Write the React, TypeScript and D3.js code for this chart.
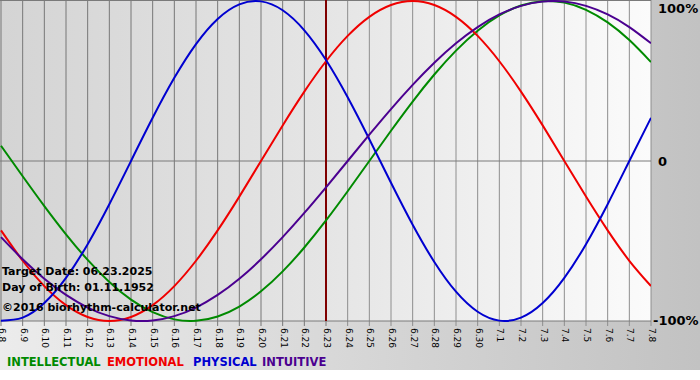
import React from "react";
import * as d3 from "d3";

const days = ["6.8","6.9","6.10","6.11","6.12","6.13","6.14","6.15","6.16","6.17","6.18","6.19","6.20","6.21","6.22","6.23","6.24","6.25","6.26","6.27","6.28","6.29","6.30","7.1","7.2","7.3","7.4","7.5","7.6","7.7","7.8"];
const targetDay = "6.23";

const physical = [-0.9977,-0.9791,-0.8879,-0.7308,-0.5196,-0.2698,0,0.2698,0.5196,0.7308,0.8879,0.9791,0.9977,0.9423,0.8170,0.6311,0.3984,0.1362,-0.1362,-0.3984,-0.6311,-0.8170,-0.9423,-0.9977,-0.9791,-0.8879,-0.7308,-0.5196,-0.2698,0,0.2698];
const emotional = [-0.4339,-0.6235,-0.7818,-0.9010,-0.9749,-1,-0.9749,-0.9010,-0.7818,-0.6235,-0.4339,-0.2225,0,0.2225,0.4339,0.6235,0.7818,0.9010,0.9749,1,0.9749,0.9010,0.7818,0.6235,0.4339,0.2225,0,-0.2225,-0.4339,-0.6235,-0.7818];
const intellectual = [0.0951,-0.0951,-0.2817,-0.4582,-0.6182,-0.7557,-0.8660,-0.9450,-0.9898,-0.9989,-0.9718,-0.9096,-0.8146,-0.6901,-0.5406,-0.3717,-0.1893,0,0.1893,0.3717,0.5406,0.6901,0.8146,0.9096,0.9718,0.9989,0.9898,0.9450,0.8660,0.7557,0.6182];
const intuitive = [-0.4759,-0.6142,-0.7357,-0.8372,-0.9158,-0.9694,-0.9966,-0.9966,-0.9694,-0.9158,-0.8372,-0.7357,-0.6142,-0.4759,-0.3247,-0.1646,0,0.1646,0.3247,0.4759,0.6142,0.7357,0.8372,0.9158,0.9694,0.9966,0.9966,0.9694,0.9158,0.8372,0.7357];

const seriesNames = ["INTELLECTUAL", "EMOTIONAL", "PHYSICAL", "INTUITIVE"];
const seriesValues = [intellectual, emotional, physical, intuitive];
const seriesColors = ["#008a00", "#f00000", "#0000d0", "#4b0090"];
const yTickValues = [1, 0, -1];
const yTickLabels = ["100%", "0", "-100%"];
const infoLines = ["Target Date: 06.23.2025", "Day of Birth: 01.11.1952", "©2016 biorhythm-calculator.net"];

export default function App() {
  const W = 700, H = 380;
  const left = 1, right = 651, top = 1, bottom = 321;
  const x = d3.scalePoint<string>().domain(days).range([left, right]);
  const y = d3.scaleLinear().domain([-1, 1]).range([bottom, top]);
  const line = d3.line<number>()
    .x((_, i) => x(days[i]) as number)
    .y((v) => y(v))
    .curve(d3.curveNatural);
  const font = "Verdana, 'DejaVu Sans', sans-serif";
  const tx = x(targetDay) as number;
  const legendX = [7, 107, 193, 262];
  return (
    <div>
      <style>{`body{margin:0}`}</style>
      <svg width={W} height={H} style={{ display: "block" }}>
        <defs>
          <linearGradient id="plotBg" x1="0" x2="1" y1="0" y2="0">
            <stop offset="0" stopColor="#d4d4d4" />
            <stop offset="0.5" stopColor="#e5e5e5" />
            <stop offset="1" stopColor="#fbfbfb" />
          </linearGradient>
          <linearGradient id="bandBg" x1="0" x2="1" y1="0" y2="0">
            <stop offset="0" stopColor="#ececec" />
            <stop offset="1" stopColor="#c2c2c2" />
          </linearGradient>
          <clipPath id="plotClip">
            <rect x={0} y={0} width={right} height={bottom + 1} />
          </clipPath>
        </defs>
        <rect x={0} y={0} width={W} height={H} fill="#ffffff" />
        <rect x={0} y={0} width={W} height={370} fill="url(#bandBg)" />
        <rect x={0} y={0} width={right} height={bottom} fill="url(#plotBg)" />
        {days.map((d) => (
          <line key={"g" + d} x1={x(d)} x2={x(d)} y1={0} y2={bottom + 5}
            stroke={(x(d) as number) <= tx ? "#777777" : "#8e8e8e"} strokeWidth={1} />
        ))}
        <line x1={0} x2={right} y1={0.5} y2={0.5} stroke="#7a7a7a" />
        <line x1={0} x2={right} y1={y(0)} y2={y(0)} stroke="#7a7a7a" />
        <line x1={0} x2={right} y1={bottom} y2={bottom} stroke="#7a7a7a" />
        <line x1={tx} x2={tx} y1={0} y2={bottom} stroke="#800000" strokeWidth={2} />
        <g clipPath="url(#plotClip)">
          {seriesValues.map((vals, k) => (
            <path key={seriesNames[k]} d={line(vals) || ""} fill="none" stroke={seriesColors[k]} strokeWidth={2} />
          ))}
        </g>
        {days.map((d) => (
          <text key={"t" + d} transform={`translate(${(x(d) as number) - 2},${bottom + 7}) rotate(90)`}
            fontFamily={font} fontSize={9} fill="#000">{d}</text>
        ))}
        {yTickValues.map((v, i) => (
          <text key={"y" + i} x={v < 0 ? 653 : 658} y={Math.min(Math.max(y(v), 8), 320) + 5}
            fontFamily={font} fontSize={13} fontWeight="bold" fill="#000">{yTickLabels[i]}</text>
        ))}
        {infoLines.map((t, i) => (
          <text key={"i" + i} x={2} y={[275, 291, 311][i]} fontFamily={font} fontSize={11} fontWeight="bold" fill="#000">{t}</text>
        ))}
        {seriesNames.map((n, k) => (
          <text key={n} x={legendX[k]} y={366} fontFamily={font} fontSize={11.5} fontWeight="bold" fill={seriesColors[k]}>{n}</text>
        ))}
      </svg>
    </div>
  );
}
